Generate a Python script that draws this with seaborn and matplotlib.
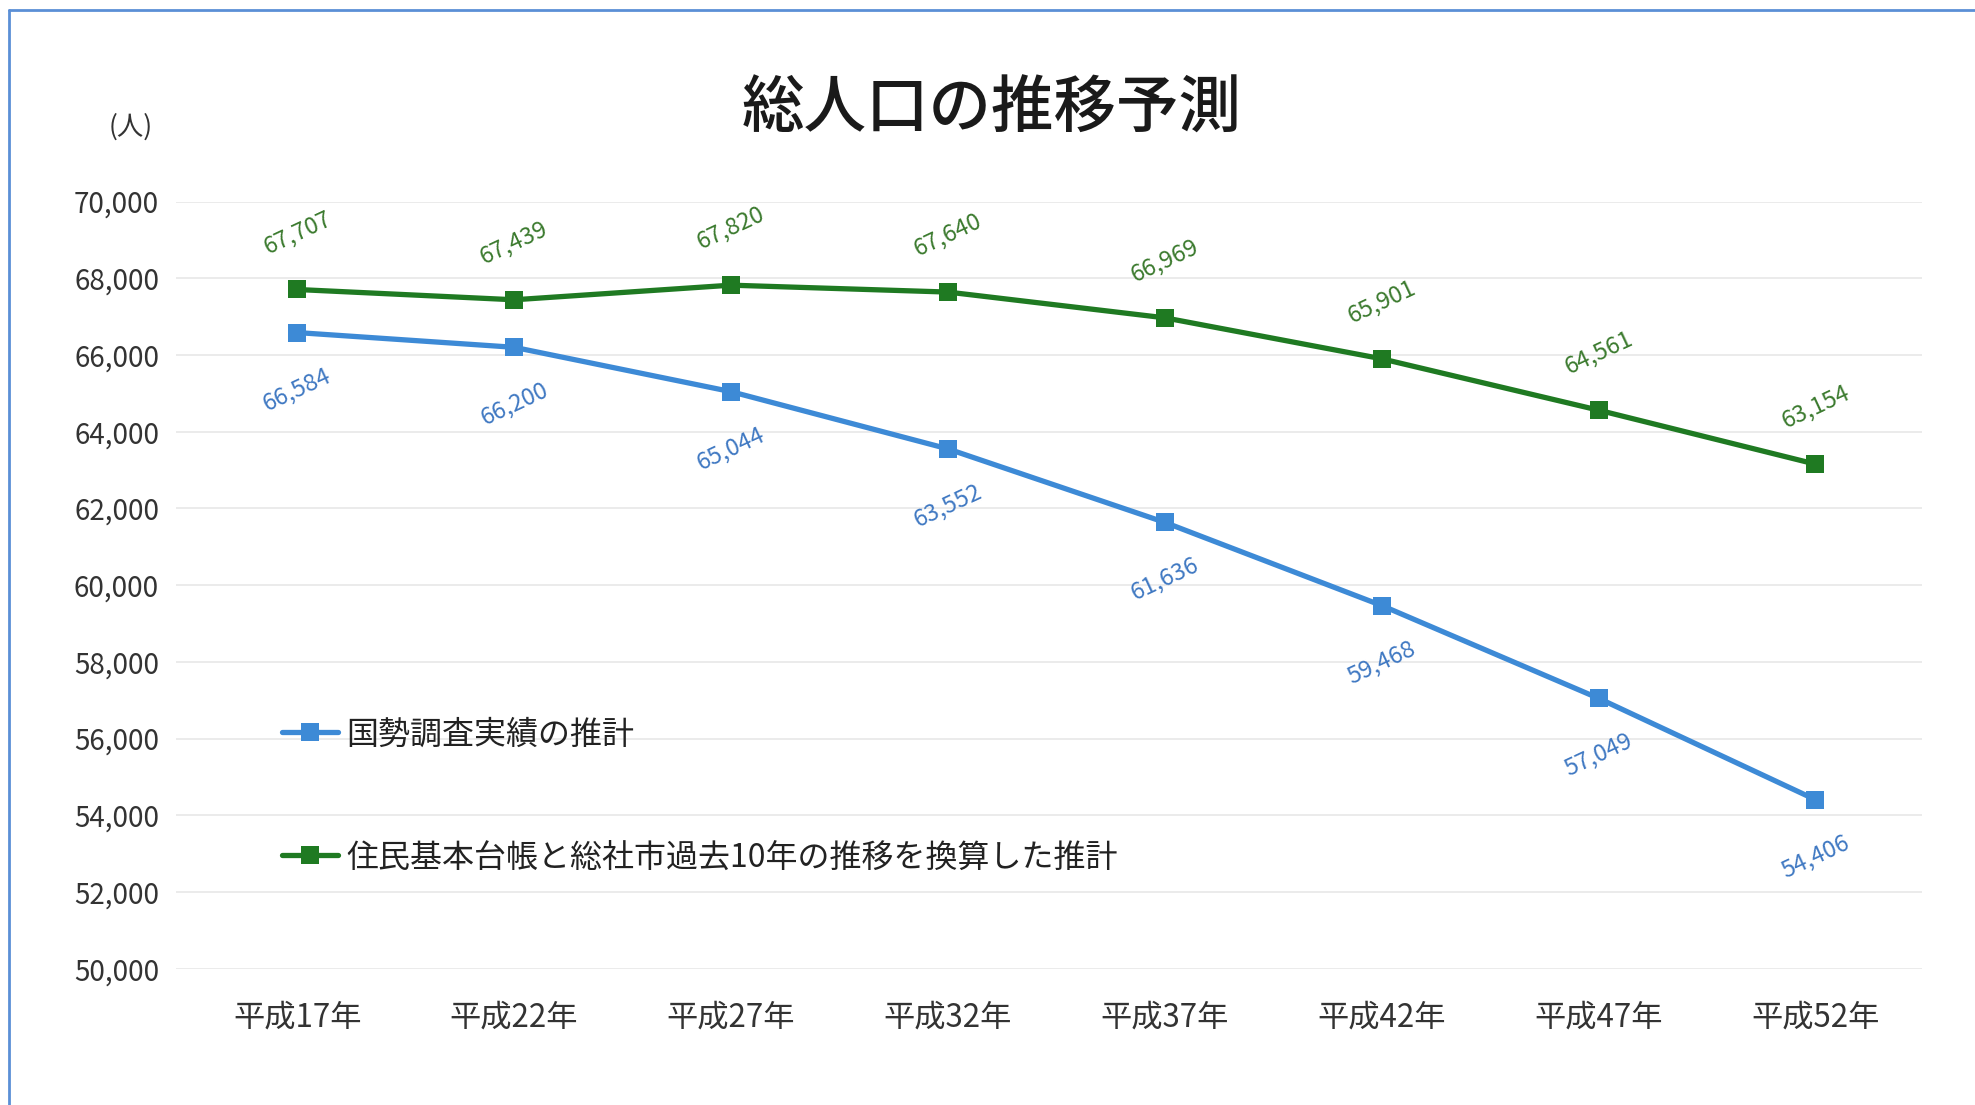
import matplotlib
matplotlib.use("Agg")
import matplotlib.pyplot as plt
from matplotlib.lines import Line2D
import seaborn as sns
import pandas as pd

categories = ["平成17年", "平成22年", "平成27年", "平成32年", "平成37年", "平成42年", "平成47年", "平成52年"]
series_names = ["国勢調査実績の推計", "住民基本台帳と総社市過去10年の推移を換算した推計"]
census_values = [66584, 66200, 65044, 63552, 61636, 59468, 57049, 54406]
registry_values = [67707, 67439, 67820, 67640, 66969, 65901, 64561, 63154]
y_ticks = [50000, 52000, 54000, 56000, 58000, 60000, 62000, 64000, 66000, 68000, 70000]

sns.set_style("white")
plt.rcParams['font.family'] = ['Noto Sans CJK JP', 'DejaVu Sans']

df = pd.DataFrame({
    "year": categories * 2,
    "population": census_values + registry_values,
    "series": [series_names[0]] * len(categories) + [series_names[1]] * len(categories),
})

blue = "#3d8ad6"
green = "#1f7a22"
blue_txt = "#3f78c2"
green_txt = "#3b7a2e"

fig = plt.figure(figsize=(19.75, 11.05), dpi=100)
ax = fig.add_axes([0.089, 0.1234, 0.884, 0.6942])

sns.lineplot(data=df, x="year", y="population", hue="series", style="series",
             palette={series_names[0]: blue, series_names[1]: green},
             markers={series_names[0]: "s", series_names[1]: "s"},
             dashes=False, sort=False, linewidth=3.8, markersize=13,
             markeredgewidth=0, ax=ax, legend=True)

ax.set_ylim(50000, 70000)
ax.set_xlim(-0.56, 7.49)
ax.set_yticks(y_ticks)
ax.set_yticklabels([f"{v:,}" for v in y_ticks], fontsize=20, color="#333333")
ax.set_xticks(range(len(categories)))
ax.set_xticklabels(categories, fontsize=22.5, color="#333333")
ax.tick_params(axis="both", length=0)
ax.tick_params(axis="y", pad=12)
ax.tick_params(axis="x", pad=24)
ax.set_xlabel("")
ax.set_ylabel("")
ax.grid(axis="y", color="#e8e8e8", linewidth=1.2)
ax.grid(axis="x", visible=False)
for s in ax.spines.values():
    s.set_visible(False)

for i, v in enumerate(census_values):
    ax.annotate(f"{v:,}", (i, v), xytext=(0, -41), textcoords="offset points",
                ha="center", va="center", rotation=25, fontsize=17, color=blue_txt)
for i, v in enumerate(registry_values):
    ax.annotate(f"{v:,}", (i, v), xytext=(0, 41), textcoords="offset points",
                ha="center", va="center", rotation=25, fontsize=17, color=green_txt)

handles, labels = ax.get_legend_handles_labels()
leg = ax.legend(handles, labels, loc="center left", bbox_to_anchor=(0.061, 0.225),
                frameon=False, fontsize=23, labelspacing=2.85, handlelength=1.75,
                handletextpad=0.25, borderpad=0, borderaxespad=0)
for t in leg.get_texts():
    t.set_color("#222222")

fig.text(0.502, 0.900, "総人口の推移予測", ha="center", va="center",
         fontsize=45, fontweight="medium", color="#1a1a1a")
fig.text(0.066, 0.885, "(人)", ha="center", va="center", fontsize=19, color="#333333")

# thin blue frame on top and left edge
fig.add_artist(Line2D([0.0045, 1.0], [0.9905, 0.9905], transform=fig.transFigure,
                      color="#5b8fd6", linewidth=2))
fig.add_artist(Line2D([0.0045, 0.0045], [0.0, 0.9905], transform=fig.transFigure,
                      color="#5b8fd6", linewidth=2))

fig.savefig("out.png", dpi=100, facecolor="white")
